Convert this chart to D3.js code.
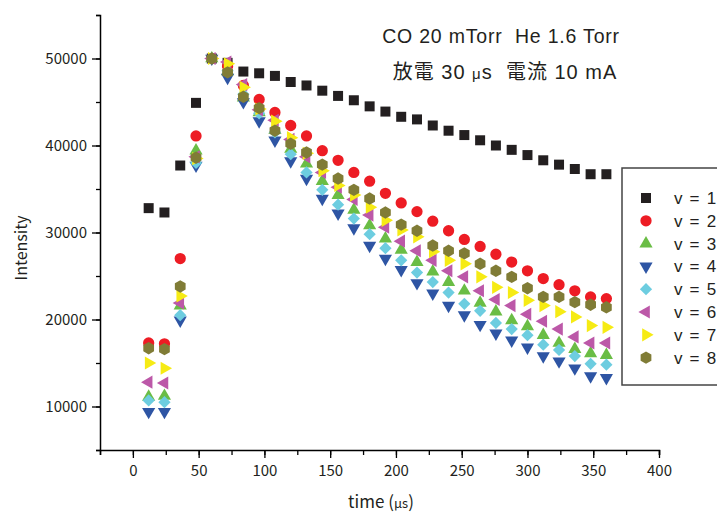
<!DOCTYPE html>
<html>
<head>
<meta charset="utf-8">
<script src="https://cdn.jsdelivr.net/npm/d3@7"></script>
<style>
  body { margin: 0; background: #fff; }
  text { font-family: "Noto Sans CJK JP", "Noto Sans", sans-serif; fill: #231f20; }
  .lat { font-family: "Liberation Sans", "Noto Sans CJK JP", sans-serif; white-space: pre; }
</style>
</head>
<body>
<svg id="chart" width="717" height="513"></svg>
<script>
// time points (us)
var times = [12, 24, 36, 48, 60, 72, 84, 96, 108, 120, 132, 144, 156, 168, 180,
             192, 204, 216, 228, 240, 252, 264, 276, 288, 300, 312, 324, 336, 348, 360];

var v1 = [32800, 32300, 37700, 44900, 50000, 49500, 48500, 48300, 48000, 47300, 46900, 46300, 45700, 45200, 44500,
          43900, 43300, 43000, 42300, 41700, 41200, 40600, 40000, 39500, 38900, 38300, 37800, 37300, 36700, 36700];
var v2 = [17300, 17200, 27000, 41100, 50000, 49100, 46900, 45300, 43800, 42300, 41100, 39400, 38300, 36900, 35900,
          34500, 33400, 32400, 31300, 30200, 29200, 28400, 27500, 26600, 25600, 24700, 24000, 23300, 22600, 22400];
var v3 = [11100, 11200, 21600, 39400, 50000, 48500, 45500, 43800, 41800, 39600, 37900, 35900, 34300, 32600, 30800,
          29300, 28000, 26600, 25500, 24300, 23300, 21900, 20900, 19900, 19200, 18200, 17300, 16600, 16100, 15900];
var v4 = [9400, 9400, 19900, 37700, 50000, 47800, 45000, 42800, 40600, 38200, 36200, 33900, 32200, 30500, 28500,
          27000, 25700, 24200, 23000, 21600, 20500, 19400, 18400, 17600, 16800, 15800, 15200, 14400, 13500, 13300];
var v5 = [10700, 10500, 20500, 38000, 50000, 48600, 45900, 43700, 41500, 39000, 36900, 34900, 33200, 31600, 29800,
          28200, 26800, 25400, 24300, 23100, 21800, 21000, 19600, 18900, 18200, 17100, 16500, 15800, 14900, 14800];
var v6 = [12800, 12700, 21900, 38700, 50000, 49600, 47000, 44100, 42900, 40700, 38700, 36900, 35200, 33800, 32000,
          30600, 29000, 27900, 26800, 25600, 24900, 23300, 22300, 21600, 20600, 19800, 18900, 18000, 17300, 17300];
var v7 = [15000, 14400, 22700, 38500, 50000, 49400, 46700, 44200, 42800, 40900, 39100, 37100, 35400, 34300, 32900,
          31400, 30300, 29500, 27800, 26800, 26400, 24900, 23700, 23100, 22200, 21600, 20900, 20300, 19300, 19100];
var v8 = [16700, 16600, 23800, 38600, 50000, 48400, 45600, 44300, 41700, 40200, 39200, 37800, 36200, 34900, 33900,
          32300, 30900, 30200, 28500, 27900, 27600, 26400, 25600, 24900, 23600, 22600, 22600, 22000, 21700, 21400];

var seriesNames = ["v = 1", "v = 2", "v = 3", "v = 4", "v = 5", "v = 6", "v = 7", "v = 8"];
var xTicks = [0, 50, 100, 150, 200, 250, 300, 350, 400];
var yTicks = [10000, 20000, 30000, 40000, 50000];

// hexagon symbol (not in d3)
var symbolHexagon = {
  draw: function (context, size) {
    var r = Math.sqrt(size / (1.5 * Math.sqrt(3)));
    for (var i = 0; i < 6; i++) {
      var a = Math.PI / 3 * i + Math.PI / 6;
      if (i === 0) context.moveTo(r * Math.cos(a), r * Math.sin(a));
      else context.lineTo(r * Math.cos(a), r * Math.sin(a));
    }
    context.closePath();
  }
};

var styles = [
  { color: "#231f20", type: d3.symbolSquare,   size: 100, rot: 0 },
  { color: "#ed1c24", type: d3.symbolCircle,   size: 100, rot: 0 },
  { color: "#6abd45", type: d3.symbolTriangle, size: 75,  rot: 0 },
  { color: "#2e55a4", type: d3.symbolTriangle, size: 75,  rot: 180 },
  { color: "#6dcde0", type: d3.symbolSquare,   size: 75,  rot: 45 },
  { color: "#bc58a8", type: d3.symbolTriangle, size: 75,  rot: -90 },
  { color: "#f6eb14", type: d3.symbolTriangle, size: 75,  rot: 90 },
  { color: "#807c36", type: symbolHexagon,     size: 100, rot: 0 }
];

var allSeries = [v1, v2, v3, v4, v5, v6, v7, v8];

var svg = d3.select("#chart");

var x = d3.scaleLinear().domain([-25, 400]).range([100, 659]);
var y = d3.scaleLinear().domain([5000, 55000]).range([450, 15]);

// x axis
var xAxis = svg.append("g").attr("transform", "translate(0,450)");
xAxis.call(d3.axisBottom(x).tickValues(d3.range(-25, 401, 25)).tickSize(5).tickFormat(""));
xAxis.call(function (g) {
  g.selectAll(".tick line").attr("stroke-width", 1.3);
  g.select(".domain").attr("stroke-width", 1.5);
});
var xMajor = svg.append("g").attr("transform", "translate(0,450)");
xMajor.call(d3.axisBottom(x).tickValues(xTicks).tickSize(8).tickPadding(7));
xMajor.select(".domain").remove();
xMajor.selectAll(".tick line").attr("stroke-width", 1.3);
xMajor.selectAll(".tick text").attr("font-size", 15).style("font-family", "'Noto Sans CJK JP', sans-serif");

// y axis
var yAxis = svg.append("g").attr("transform", "translate(100,0)");
yAxis.call(d3.axisLeft(y).tickValues(d3.range(5000, 55001, 5000)).tickSize(4).tickFormat(""));
yAxis.select(".domain").attr("stroke-width", 1.5);
yAxis.selectAll(".tick line").attr("stroke-width", 1.3);
var yMajor = svg.append("g").attr("transform", "translate(100,0)");
yMajor.call(d3.axisLeft(y).tickValues(yTicks).tickSize(8).tickPadding(5).tickFormat(d3.format("d")));
yMajor.select(".domain").remove();
yMajor.selectAll(".tick line").attr("stroke-width", 1.3);
yMajor.selectAll(".tick text").attr("font-size", 15).style("font-family", "'Noto Sans CJK JP', sans-serif");

// axis labels
svg.append("text")
  .attr("transform", "translate(27,248) rotate(-90)")
  .attr("text-anchor", "middle")
  .attr("font-size", 16)
  .text("Intensity");

var xl = svg.append("text")
  .attr("x", 381).attr("y", 508)
  .attr("text-anchor", "middle")
  .attr("font-size", 17);
xl.append("tspan").text("time (");
xl.append("tspan").attr("font-size", 13).text("μs");
xl.append("tspan").text(")");

// points
allSeries.forEach(function (vals, i) {
  var st = styles[i];
  var sym = d3.symbol().type(st.type).size(st.size);
  svg.append("g").selectAll("path")
    .data(vals)
    .enter().append("path")
    .attr("d", sym)
    .attr("fill", st.color)
    .attr("transform", function (d, j) {
      return "translate(" + x(times[j]) + "," + y(d) + ") rotate(" + st.rot + ")";
    });
});

// title
svg.append("text")
  .attr("class", "lat")
  .attr("x", 501).attr("y", 43)
  .attr("text-anchor", "middle")
  .attr("font-size", 19.5)
  .attr("letter-spacing", 0.8)
  .text("CO 20 mTorr  He 1.6 Torr");

var t2 = svg.append("text")
  .attr("class", "lat")
  .attr("x", 505).attr("y", 79)
  .attr("text-anchor", "middle")
  .attr("font-size", 20)
  .attr("letter-spacing", 1);
t2.append("tspan").text("放電 30 ");
t2.append("tspan").attr("font-size", 15).text("μ");
t2.append("tspan").text("s  電流 10 mA");

// legend
var legend = svg.append("g");
legend.append("rect")
  .attr("x", 622).attr("y", 168)
  .attr("width", 110).attr("height", 217)
  .attr("fill", "#fff")
  .attr("stroke", "#444")
  .attr("stroke-width", 1.5);

seriesNames.forEach(function (name, i) {
  var st = styles[i];
  var ly = 198 + i * 22.8;
  legend.append("path")
    .attr("d", d3.symbol().type(st.type).size(st.size)())
    .attr("fill", st.color)
    .attr("transform", "translate(646," + ly + ") rotate(" + st.rot + ")");
  legend.append("text")
    .attr("class", "lat")
    .attr("x", 674).attr("y", ly + 6)
    .attr("font-size", 17)
    .attr("letter-spacing", 1.2)
    .text(name);
});
</script>
</body>
</html>
